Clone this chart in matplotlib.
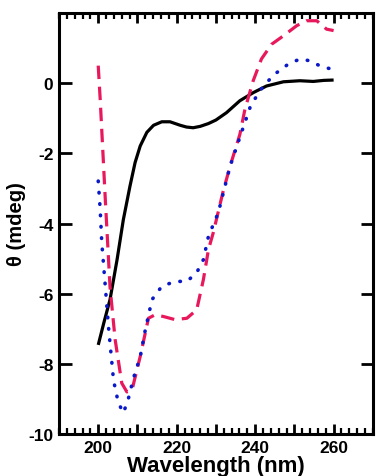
import matplotlib.pyplot as plt
from matplotlib.ticker import MultipleLocator

plt.rcParams['font.family'] = ['Liberation Sans', 'DejaVu Sans']

# black solid curve
wl_black = [200, 201.5, 203, 204.8, 206.4, 208.1, 209.4, 210.7, 212.4, 214.1, 216.2, 218.3, 220.9, 222.5,
            224.2, 226, 228.1, 230, 232.7, 236.1, 239.5, 242.9, 247.2, 251.4, 254.8, 257.5, 260]
cd_black = [-7.46, -6.8, -6.17, -5.03, -3.89, -2.93, -2.26, -1.79, -1.4, -1.2, -1.1, -1.1, -1.2, -1.25,
            -1.27, -1.23, -1.15, -1.05, -0.84, -0.5, -0.27, -0.08, 0.04, 0.07, 0.05, 0.08, 0.09]

# pink dashed curve
wl_pink = [200, 200.5, 201.8, 203, 204.3, 206, 207.3, 208.6, 210.7, 212.8, 214.5, 216.6, 219.6, 222.6,
           225.1, 226.8, 228.1, 229.3, 231.8, 233.6, 236.1, 237.4, 239.5, 241.6, 244.2, 247.2, 250.6,
           253.1, 255.7, 258.2, 260]
cd_pink = [0.5, -0.46, -3.31, -5.8, -7.3, -8.55, -8.8, -8.75, -7.79, -6.7, -6.6, -6.65, -6.74, -6.7,
           -6.46, -5.6, -4.74, -4.27, -3.1, -2.37, -1.46, -0.74, 0.07, 0.69, 1.11, 1.35, 1.64,
           1.78, 1.78, 1.54, 1.5]

# blue dotted curve
wl_blue = [200, 200.5, 200.9, 201.8, 202.6, 203.9, 205.1, 206.4, 207.6, 209, 210.7, 212, 213.7, 216.2,
           219.6, 222.6, 225.1, 226.8, 228.1, 230.6, 233.6, 236.5, 238.7, 240.4, 242.1, 245, 248.4,
           251.4, 253.9, 257.3, 260]
cd_blue = [-2.79, -3.6, -4.54, -5.79, -6.93, -8.47, -9.1, -9.4, -9.03, -8.4, -7.8, -7.03, -6.17, -5.79,
           -5.65, -5.65, -5.4, -5.03, -4.36, -3.69, -2.37, -1.41, -0.69, -0.36, -0.08, 0.26, 0.54,
           0.69, 0.64, 0.45, 0.4]

fig = plt.figure(figsize=(3.77, 4.77), dpi=100)
ax = fig.add_axes([0.1565, 0.088, 0.8325, 0.8826])

ax.plot(wl_black, cd_black, color='black', lw=2.3, solid_capstyle='butt')
ax.plot(wl_pink, cd_pink, color='#E8185C', lw=2.3, dashes=(4.2, 2.4))
ax.plot(wl_blue, cd_blue, color='#0A18C8', lw=2.6, dashes=(0.15, 3.0), dash_capstyle='round')

ax.set_xlim(190, 270)
ax.set_ylim(-10, 2)

ax.xaxis.set_minor_locator(MultipleLocator(2))
ax.set_xticks([200, 210, 220, 230, 240, 250, 260])
ax.set_xticklabels(['200', '', '220', '', '240', '', '260'])
ax.set_yticks([-10, -8, -6, -4, -2, 0])
ax.set_yticklabels(['-10', '-8', '-6', '-4', '-2', '0'])

ax.tick_params(axis='x', which='major', direction='in', top=True, length=7, width=2)
ax.tick_params(axis='x', which='minor', direction='in', top=True, length=4, width=1.6)
ax.tick_params(axis='y', which='major', direction='in', right=True, length=9, width=2)
ax.tick_params(axis='y', which='minor', left=False, right=False)
ax.tick_params(labelsize=12.5, pad=4)
for lbl in ax.get_xticklabels() + ax.get_yticklabels():
    lbl.set_fontweight('bold')

for s in ax.spines.values():
    s.set_linewidth(2.2)

ax.set_ylabel('θ (mdeg)', fontsize=14.5, fontweight='bold', labelpad=2)
ax.set_xlabel('Wavelength (nm)', fontsize=16, fontweight='bold', labelpad=0)

fig.savefig('out.png', dpi=100)
